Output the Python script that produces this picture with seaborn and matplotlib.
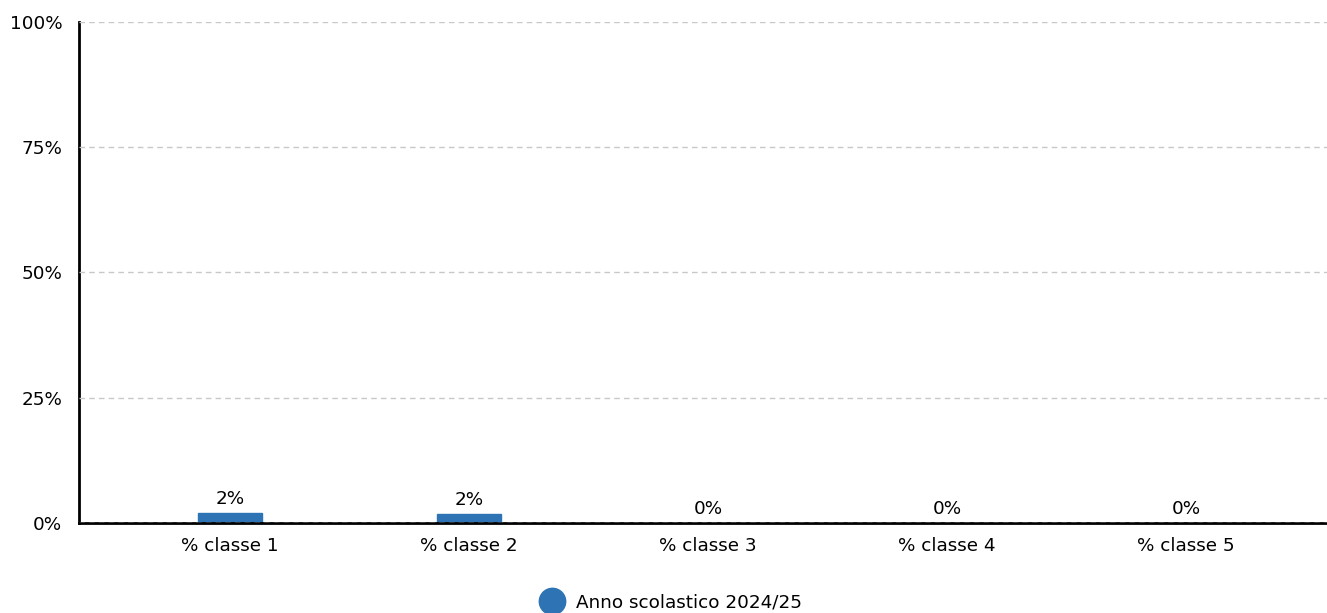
import pandas as pd
import matplotlib.pyplot as plt
import seaborn as sns
from matplotlib.lines import Line2D
from matplotlib.ticker import PercentFormatter

categories = ["% classe 1", "% classe 2", "% classe 3", "% classe 4", "% classe 5"]
values = [1.95, 1.75, 0.0, 0.0, 0.0]
labels = ["2%", "2%", "0%", "0%", "0%"]
series_name = "Anno scolastico 2024/25"
bar_color = "#2e74b5"

df = pd.DataFrame({"classe": categories, "valore": values})

sns.set_style("white")
plt.rcParams['font.family'] = ['DejaVu Sans']
plt.rcParams['text.color'] = 'black'

fig = plt.figure(figsize=(13.27, 6.13), dpi=100)
ax = fig.add_axes([0.0595, 0.147, 0.9405, 0.817])

sns.barplot(data=df, x="classe", y="valore", color=bar_color, width=0.264,
            edgecolor=bar_color, linewidth=1, saturation=1, ax=ax)

ax.set_xlim(-0.632, 4.59)
ax.set_ylim(0, 100)
ax.set_yticks([0, 25, 50, 75, 100])
ax.yaxis.set_major_formatter(PercentFormatter(decimals=0))
ax.grid(axis="y", linestyle=(0, (4, 3)), color="#c8c8c8", linewidth=1)
ax.set_axisbelow(False)
ax.set_xlabel("")
ax.set_ylabel("")

for s in ["top", "right"]:
    ax.spines[s].set_visible(False)
for s in ["left", "bottom"]:
    ax.spines[s].set_color("black")
    ax.spines[s].set_linewidth(2)

ax.tick_params(axis="y", length=5, width=2, labelsize=13.2, colors="black", pad=7)
ax.tick_params(axis="x", length=0, labelsize=13.2, labelcolor="black", pad=10)

# value labels above each bar
for bar, lab in zip(ax.patches, labels):
    ax.annotate(lab, (bar.get_x() + bar.get_width() / 2, bar.get_height()),
                xytext=(0, 3.5), textcoords="offset points",
                ha="center", va="bottom", fontsize=13.2, color="black")

handle = Line2D([], [], marker="o", linestyle="", markersize=19,
                markerfacecolor=bar_color, markeredgecolor=bar_color)
fig.legend([handle], [series_name], loc="lower center",
           bbox_to_anchor=(0.503, -0.024), frameon=False, fontsize=13.2,
           handletextpad=0.3)

fig.savefig("out.png", dpi=100)
